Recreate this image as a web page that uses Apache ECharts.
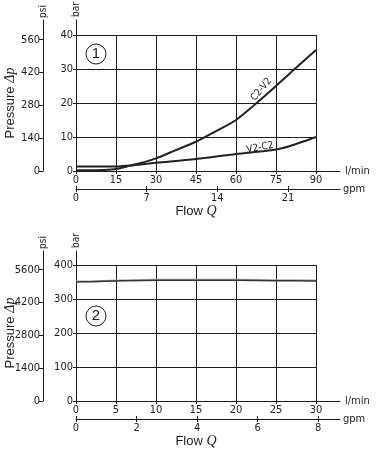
<!DOCTYPE html>
<html>
<head>
<meta charset="utf-8">
<script src="https://cdn.jsdelivr.net/npm/echarts@6/dist/echarts.min.js"></script>
<style>
  html,body{margin:0;padding:0;background:#fff}
  #chart{width:376px;height:454px}
</style>
</head>
<body>
<div id="chart"></div>
<script>
// panel 1 data (bar over l/min)
var flowC2V2 = [0, 5, 10, 15, 20, 25, 30, 37, 45, 52, 60, 67, 75, 82, 90];
var presC2V2 = [0.2, 0.2, 0.3, 0.6, 1.5, 2.5, 3.7, 6, 8.6, 11.5, 15, 19.5, 25, 30, 35.6];
var flowV2C2 = [0, 15, 20, 25, 30, 45, 60, 70, 75, 80, 85, 90];
var presV2C2 = [1.3, 1.3, 1.6, 2, 2.4, 3.5, 5, 5.8, 6.3, 7.3, 8.6, 10];
var gpmTicks1 = [0, 7, 14, 21];
var psiTicks1 = [0, 140, 280, 420, 560];

// panel 2 data
var flow2 = [0, 2, 5, 10, 15, 20, 25, 30];
var presDark2 = [350, 351, 353, 355, 355, 355, 354, 353];
var presGray2 = [352, 353, 355, 357, 357, 357, 356, 355];
var gpmTicks2 = [0, 2, 4, 6, 8];
var psiTicks2 = [0, 1400, 2800, 4200, 5600];

var LPM_PER_GPM = 3.785, PSI_PER_BAR = 14.5038;
var NARROW = '"Liberation Sans Narrow","Arial Narrow","DejaVu Sans Condensed","Liberation Sans",sans-serif';
var INK = '#1c1c1c';

var grids = [], xAxes = [], yAxes = [], series = [], graphics = [];

function zip(a, b){ return a.map(function(v,i){ return [v, b[i]]; }); }

function panel(p){
  var gData = grids.length, gFrame = gData + 1;
  // data grid is 76..316; the frame grid carries the longer axis lines and the psi/gpm scales
  grids.push({left:76, width:240, top:p.top, height:136, outerBoundsMode:'none'});
  grids.push({left:76, width:264, top:p.frameTop, height:p.top + 136 - p.frameTop, outerBoundsMode:'none'});
  var xMaxFrame = p.xMax * 264 / 240;
  var yMaxFrame = p.yMax * (p.top + 136 - p.frameTop) / 136;
  var lbl = {fontFamily:NARROW, fontSize:11, color:INK};
  var line = {show:true, onZero:false, lineStyle:{color:INK, width:1}};

  var xi = xAxes.length;
  xAxes.push({
    gridIndex:gData, type:'value', min:0, max:p.xMax, interval:p.xStep,
    axisLine:{show:false},
    axisTick:{show:true, length:3, lineStyle:{color:INK}},
    axisLabel:Object.assign({margin:4}, lbl),
    splitLine:{show:true, lineStyle:{color:INK, width:1}},
    name:'Flow {q|Q}', nameLocation:'middle', nameGap:33,
    nameTextStyle:{fontFamily:'"Liberation Sans",Arial,sans-serif', fontSize:13, color:INK,
      rich:{q:{fontFamily:'"Liberation Serif",serif', fontStyle:'italic', fontSize:14, color:INK}}}
  });
  xAxes.push({
    gridIndex:gFrame, type:'value', min:0, max:xMaxFrame, position:'bottom',
    axisLine:line,
    axisTick:{show:false}, axisLabel:{show:false}, splitLine:{show:false},
    name:'l/min', nameLocation:'end', nameGap:5,
    nameTextStyle:{fontFamily:NARROW, fontSize:11, color:INK}
  });
  var gpmAxis = {
    gridIndex:gFrame, type:'value', position:'bottom', offset:18,
    min:0, max:xMaxFrame / LPM_PER_GPM,
    axisLine:line,
    axisTick:{show:true, length:3, customValues:p.gpmTicks, lineStyle:{color:INK}},
    axisLabel:Object.assign({margin:4, customValues:p.gpmTicks}, lbl),
    splitLine:{show:false},
    name:'gpm', nameLocation:'end', nameGap:3,
    nameTextStyle:{fontFamily:NARROW, fontSize:11, color:INK}
  };
  xAxes.push(gpmAxis);
  // same gpm scale again, only for the upper half of the crossing ticks
  xAxes.push({
    gridIndex:gFrame, type:'value', position:'bottom', offset:18,
    min:0, max:gpmAxis.max,
    axisLine:{show:false, onZero:false},
    axisTick:{show:true, inside:true, length:3, customValues:p.gpmTicks, lineStyle:{color:INK}},
    axisLabel:{show:false}, splitLine:{show:false}
  });

  var yi = yAxes.length;
  yAxes.push({
    gridIndex:gData, type:'value', min:0, max:p.yMax, interval:p.yStep,
    axisLine:{show:false},
    axisTick:{show:true, length:3, lineStyle:{color:INK}},
    axisLabel:Object.assign({margin:3}, lbl),
    splitLine:{show:true, lineStyle:{color:INK, width:1}}
  });
  yAxes.push({
    gridIndex:gFrame, type:'value', min:0, max:yMaxFrame, position:'left',
    axisLine:line,
    axisTick:{show:false}, axisLabel:{show:false}, splitLine:{show:false},
    name:'bar', nameLocation:'end', nameRotate:90, nameGap:3,
    nameTextStyle:{fontFamily:NARROW, fontSize:10, color:INK, align:'left', verticalAlign:'middle'}
  });
  yAxes.push({
    gridIndex:gFrame, type:'value', position:'left', offset:33,
    min:0, max:yMaxFrame * PSI_PER_BAR,
    axisLine:line,
    axisTick:{show:true, length:4, customValues:p.psiTicks, lineStyle:{color:INK}},
    axisLabel:Object.assign({margin:3, customValues:p.psiTicks, formatter:function(v){ return String(v); }}, lbl),
    splitLine:{show:false},
    name:'psi', nameLocation:'end', nameRotate:90, nameGap:2,
    nameTextStyle:{fontFamily:NARROW, fontSize:10, color:INK, align:'left', verticalAlign:'middle'}
  });
  yAxes.push({
    gridIndex:gData, type:'value', position:'left', offset:33, min:0, max:p.yMax,
    axisLine:{show:false}, axisTick:{show:false}, axisLabel:{show:false}, splitLine:{show:false},
    name:'Pressure {d|Δp}', nameLocation:'middle', nameGap:26,
    nameTextStyle:{fontFamily:'"Liberation Sans",Arial,sans-serif', fontSize:13, color:INK,
      rich:{d:{fontFamily:'"Liberation Serif",serif', fontStyle:'italic', fontSize:14, color:INK}}}
  });

  p.lines.forEach(function(l){
    series.push({
      type:'line', xAxisIndex:xi, yAxisIndex:yi, data:l.data, smooth:0.3,
      symbol:'none', lineStyle:{color:l.color, width:l.width}, z:l.z || 3,
      markPoint: l.tag ? {
        symbol:'circle', symbolSize:0, silent:true,
        data:[{coord:l.tag.at, label:{show:true, formatter:l.tag.text, rotate:l.tag.rotate,
          position:'inside', fontFamily:NARROW, fontSize:10, color:INK}}]
      } : undefined
    });
  });

  graphics.push({type:'circle', shape:{cx:96, cy:p.badgeY, r:10},
    style:{fill:'#fff', stroke:INK, lineWidth:1}, z:10});
  graphics.push({type:'text', x:96, y:p.badgeY, z:11,
    style:{text:p.num, fontFamily:'"Liberation Sans",Arial,sans-serif', fontSize:15,
      fill:INK, align:'center', verticalAlign:'middle'}});
}

panel({
  top:35, frameTop:20, xMax:90, xStep:15, yMax:40, yStep:10,
  gpmTicks:gpmTicks1, psiTicks:psiTicks1, num:'1', badgeY:54,
  lines:[
    {data:zip(flowC2V2, presC2V2), color:'#222', width:2,
     tag:{text:'C2-V2', at:[69.5, 24], rotate:50}},
    {data:zip(flowV2C2, presV2C2), color:'#222', width:2,
     tag:{text:'V2-C2', at:[69, 6.9], rotate:10}}
  ]
});
panel({
  top:265, frameTop:251, xMax:30, xStep:5, yMax:400, yStep:100,
  gpmTicks:gpmTicks2, psiTicks:psiTicks2, num:'2', badgeY:316,
  lines:[
    {data:zip(flow2, presGray2), color:'#a8a8a8', width:1.5, z:3},
    {data:zip(flow2, presDark2), color:'#333', width:1.5, z:4}
  ]
});

var chart = echarts.init(document.getElementById('chart'), null, {renderer:'canvas'});
chart.setOption({
  animation:false,
  backgroundColor:'#fff',
  grid:grids, xAxis:xAxes, yAxis:yAxes, series:series, graphic:graphics
});
</script>
</body>
</html>
